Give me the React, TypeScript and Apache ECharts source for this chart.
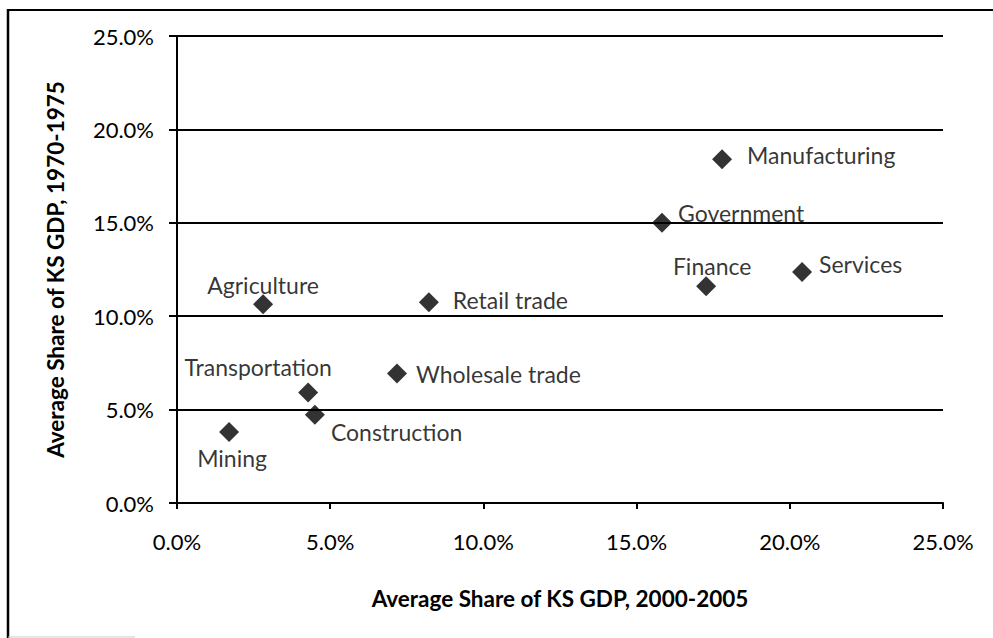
import React, { useEffect, useRef } from "react";
import * as echarts from "echarts";

// Data (percent values)
const sectors = [
  "Agriculture",
  "Transportation",
  "Construction",
  "Mining",
  "Wholesale trade",
  "Retail trade",
  "Manufacturing",
  "Government",
  "Finance",
  "Services",
];
const share2000_2005 = [2.81, 4.28, 4.5, 1.7, 7.18, 8.22, 17.79, 15.83, 17.27, 20.4];
const share1970_1975 = [10.64, 5.91, 4.73, 3.8, 6.93, 10.75, 18.4, 15.0, 11.6, 12.36];
const axisTicks = [0, 5, 10, 15, 20, 25];

// Label layout (style, not data): [align, dx, dy]
const labelLayout: Record<string, [string, number, number]> = {
  Agriculture: ["center", 0, -19],
  Transportation: ["center", -50, -26],
  Construction: ["left", 16, 17],
  Mining: ["center", 3, 26],
  "Wholesale trade": ["left", 19, 0],
  "Retail trade": ["left", 24, -2],
  Manufacturing: ["left", 25, -4],
  Government: ["left", 16, -10],
  Finance: ["center", 6, -20],
  Services: ["left", 17, -8],
};

const FONT = "Lato, 'Open Sans', sans-serif";

export default function App() {
  const ref = useRef<HTMLDivElement>(null);
  useEffect(() => {
    document.body.style.margin = "0";
    const chart = echarts.init(ref.current!, null, { renderer: "svg" });
    const data = sectors.map((name, i) => {
      const [align, dx, dy] = labelLayout[name];
      return {
        name,
        value: [share2000_2005[i], share1970_1975[i]],
        label: { position: "inside", align, verticalAlign: "middle", offset: [dx, dy] },
      };
    });
    const fmt = (v: number) => v.toFixed(1) + "%";
    chart.setOption({
      animation: false,
      backgroundColor: "#ffffff",
      textStyle: { fontFamily: FONT },
      grid: { left: 177, right: 50, top: 36, bottom: 135 },
      xAxis: {
        type: "value",
        min: axisTicks[0],
        max: axisTicks[axisTicks.length - 1],
        interval: 5,
        name: "Average Share of KS GDP, 2000-2005",
        nameLocation: "middle",
        nameGap: 84,
        nameTextStyle: { fontFamily: FONT, fontWeight: "bold", fontSize: 22.5, color: "#000" },
        axisLine: { show: true, lineStyle: { color: "#000", width: 2 } },
        axisTick: { show: true, length: 6, lineStyle: { color: "#000", width: 2 } },
        axisLabel: { formatter: fmt, fontFamily: FONT, fontSize: 22, color: "#000", margin: 27 },
        splitLine: { show: false },
      },
      yAxis: {
        type: "value",
        min: axisTicks[0],
        max: axisTicks[axisTicks.length - 1],
        interval: 5,
        name: "Average Share of KS GDP, 1970-1975",
        nameLocation: "middle",
        nameGap: 110,
        nameRotate: 90,
        nameTextStyle: { fontFamily: FONT, fontWeight: "bold", fontSize: 22.5, color: "#000" },
        axisLine: { show: true, lineStyle: { color: "#000", width: 2 } },
        axisTick: { show: true, length: 8, lineStyle: { color: "#000", width: 2 } },
        axisLabel: { formatter: fmt, fontFamily: FONT, fontSize: 22, color: "#000", margin: 23 },
        splitLine: { show: true, lineStyle: { color: "#000", width: 2 } },
      },
      series: [
        {
          type: "scatter",
          symbol: "diamond",
          symbolSize: [20, 20],
          itemStyle: { color: "#000" },
          label: {
            show: true,
            formatter: "{b}",
            fontFamily: FONT,
            fontSize: 23,
            color: "#000",
          },
          data,
        },
      ],
      graphic: [
        { type: "line", shape: { x1: 8, y1: 9, x2: 8, y2: 638 }, style: { stroke: "#000", lineWidth: 2.5 } },
        { type: "line", shape: { x1: 8, y1: 10, x2: 993, y2: 10 }, style: { stroke: "#000", lineWidth: 2 } },
        { type: "line", shape: { x1: 8, y1: 637, x2: 135, y2: 637 }, style: { stroke: "#ccc", lineWidth: 1 } },
      ],
    });
    return () => chart.dispose();
  }, []);
  return (
    <div
      ref={ref}
      style={{ position: "absolute", left: 0, top: 0, width: 993, height: 638 }}
    />
  );
}
